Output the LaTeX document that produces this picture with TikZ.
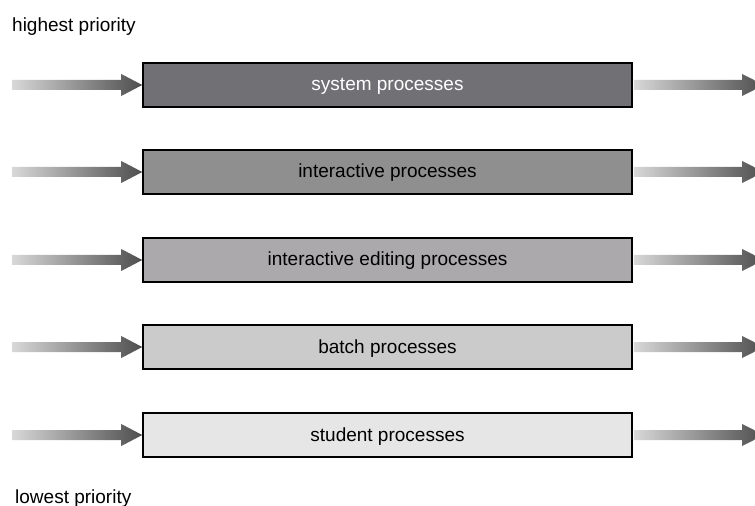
\documentclass[tikz,border=0pt]{standalone}
\usepackage{fontspec}
\setmainfont{Liberation Sans}
\usetikzlibrary{calc}
\definecolor{cA}{HTML}{707075}
\definecolor{cB}{HTML}{8F8F8F}
\definecolor{cC}{HTML}{ABA9AC}
\definecolor{cD}{HTML}{CBCBCB}
\definecolor{cE}{HTML}{E6E6E6}
\definecolor{arrlight}{HTML}{D8D8D8}
\definecolor{arrdark}{HTML}{4E4E4E}
\tikzset{
  procbox/.style={draw=black, line width=1.5bp, minimum width=489bp, minimum height=44bp,
    inner sep=0pt, text height=14bp, text depth=2bp, font=\fontsize{19bp}{22bp}\selectfont},
  lbl/.style={anchor=base west, inner sep=0pt, font=\fontsize{19bp}{22bp}\selectfont},
  arrshade/.style={left color=arrlight, right color=arrdark, draw=none},
}
\begin{document}
\begin{tikzpicture}[x=1bp,y=-1bp]
\useasboundingbox (0,0) rectangle (755,506);
\clip (0,0) rectangle (755,506);
\node[lbl] (hi) at (12,32) {highest priority};
\node[lbl] (lo) at (15,503) {lowest priority};
\foreach \i/\y/\c/\t/\tc in {1/85/cA/system processes/white,
                           2/172/cB/interactive processes/black,
                           3/260/cC/interactive editing processes/black,
                           4/347/cD/batch processes/black,
                           5/435/cE/student processes/black}{
  \node[procbox, fill=\c, text=\tc] (b\i) at (387.5,\y) {\t};
  \coordinate (l\i) at (12,\y);
  \coordinate (r\i) at (764,\y);
  \shade[arrshade]
    ($(l\i)+(0,-5)$) -- ($(b\i.west)+(-21,-5)$) -- ($(b\i.west)+(-21,-11)$)
    -- (b\i.west) -- ($(b\i.west)+(-21,11)$) -- ($(b\i.west)+(-21,5)$)
    -- ($(l\i)+(0,5)$) -- cycle;
  \shade[arrshade]
    ($(b\i.east)+(1,-5)$) -- ($(r\i)+(-22,-5)$) -- ($(r\i)+(-22,-11)$)
    -- (r\i) -- ($(r\i)+(-22,11)$) -- ($(r\i)+(-22,5)$)
    -- ($(b\i.east)+(1,5)$) -- cycle;
}
\end{tikzpicture}
\end{document}
